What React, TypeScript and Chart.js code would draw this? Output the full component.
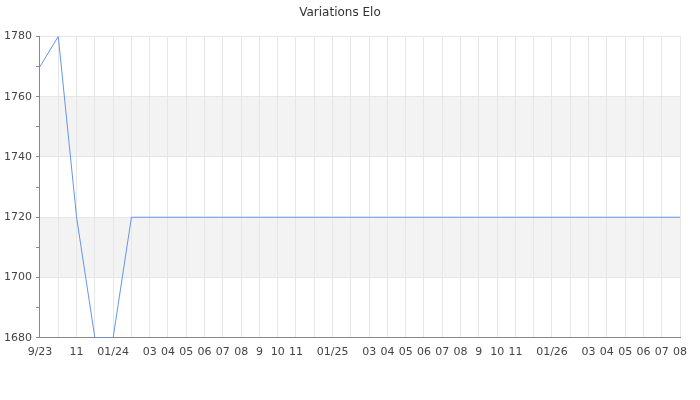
import React, { useEffect, useRef } from "react";
import { Chart, registerables } from "chart.js";

Chart.register(...registerables);

const monthLabels: string[] = [
  "9/23", "", "11", "", "01/24", "", "03", "04", "05", "06", "07", "08",
  "9", "10", "11", "", "01/25", "", "03", "04", "05", "06", "07", "08",
  "9", "10", "11", "", "01/26", "", "03", "04", "05", "06", "07", "08",
];

const eloValues: number[] = [
  1770, 1780, 1720, 1680, 1680, 1720, 1720, 1720, 1720, 1720, 1720, 1720,
  1720, 1720, 1720, 1720, 1720, 1720, 1720, 1720, 1720, 1720, 1720, 1720,
  1720, 1720, 1720, 1720, 1720, 1720, 1720, 1720, 1720, 1720, 1720, 1720,
];

const bands: [number, number][] = [
  [1700, 1720],
  [1740, 1760],
];

const FONT = "'DejaVu Sans', sans-serif";

const bandPlugin = {
  id: "bands",
  beforeDraw(chart: any) {
    const { ctx, chartArea, scales } = chart;
    if (!chartArea) return;
    const y = scales.y;
    ctx.save();
    ctx.fillStyle = "#f3f3f3";
    for (const [lo, hi] of bands) {
      const yTop = y.getPixelForValue(hi);
      const yBot = y.getPixelForValue(lo);
      ctx.fillRect(chartArea.left, yTop, chartArea.right - chartArea.left, yBot - yTop);
    }
    ctx.restore();
  },
};

export default function App() {
  const ref = useRef<HTMLCanvasElement>(null);

  useEffect(() => {
    if (!ref.current) return;
    const chart = new Chart(ref.current, {
      type: "line",
      data: {
        labels: monthLabels,
        datasets: [
          {
            label: "Elo",
            data: eloValues,
            borderColor: "#6495ED",
            borderWidth: 1,
            pointRadius: 0,
            tension: 0,
            fill: false,
            clip: 0,
          },
        ],
      },
      options: {
        animation: false,
        responsive: false,
        maintainAspectRatio: false,
        layout: { padding: { left: 0, right: 20, top: 0, bottom: 33 } },
        plugins: {
          legend: { display: false },
          tooltip: { enabled: false },
          title: {
            display: true,
            text: "Variations Elo",
            color: "#333",
            font: { family: FONT, size: 12, weight: "normal" },
            padding: { top: 6, bottom: 16 },
          },
        },
        scales: {
          x: {
            type: "category",
            offset: false,
            grid: {
              color: "#e6e6e6",
              drawTicks: false,
            },
            border: { color: "#888" },
            ticks: {
              autoSkip: false,
              maxRotation: 0,
              minRotation: 0,
              color: "#444",
              padding: 8,
              font: { family: FONT, size: 11 },
            },
          },
          y: {
            min: 1680,
            max: 1780,
            grid: {
              color: (c: any) => (c.tick && c.tick.value % 20 === 0 ? "#e6e6e6" : "rgba(0,0,0,0)"),
              tickColor: "#888",
              tickLength: 4,
            },
            border: { color: "#888" },
            ticks: {
              stepSize: 10,
              color: "#444",
              padding: 4,
              font: { family: FONT, size: 11 },
              callback: (v: any) => (Number(v) % 20 === 0 ? String(v) : ""),
            },
          },
        },
      },
      plugins: [bandPlugin],
    });
    return () => chart.destroy();
  }, []);

  return (
    <div style={{ position: "absolute", left: 0, top: 0, width: 700, height: 400, background: "#fff" }}>
      <canvas ref={ref} width={700} height={400} style={{ width: 700, height: 400 }} />
    </div>
  );
}
